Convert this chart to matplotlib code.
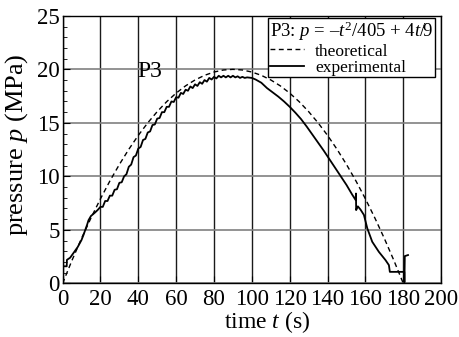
import matplotlib
matplotlib.use("Agg")
import matplotlib.pyplot as plt
from matplotlib.ticker import MultipleLocator

plt.rcParams['font.family'] = ['Liberation Serif', 'DejaVu Serif']
plt.rcParams['mathtext.fontset'] = 'custom'
plt.rcParams['mathtext.rm'] = 'Liberation Serif'
plt.rcParams['mathtext.it'] = 'Liberation Serif:italic'

# theoretical curve P3, read at 5 s steps
t_theo = [0, 5, 10, 15, 20, 25, 30, 35, 40, 45, 50, 55, 60, 65, 70, 75, 80, 85, 90,
          95, 100, 105, 110, 115, 120, 125, 130, 135, 140, 145, 150, 155, 160, 165,
          170, 175, 180]
p_theo = [0.0, 2.16, 4.20, 6.11, 7.90, 9.57, 11.11, 12.53, 13.83, 15.00, 16.05, 16.98,
          17.78, 18.46, 19.01, 19.44, 19.75, 19.94, 20.0, 19.94, 19.75, 19.44, 19.01,
          18.46, 17.78, 16.98, 16.05, 15.00, 13.83, 12.53, 11.11, 9.57, 7.90, 6.11,
          4.20, 2.16, 0.0]

# measured curve P3
t_exp = [0, 1.0, 2.2, 2.3, 4, 6, 8, 10, 11, 12, 13, 13.7, 15, 17, 18.5,
         20.0, 21.25, 22.5, 23.75, 25, 26.25, 27.5, 28.75, 30, 31.25, 32.5, 33.75,
         35, 36.25, 37.5, 38.75, 40, 41.25, 42.5, 43.75, 45, 46.25, 47.5, 48.75,
         50, 51.25, 52.5, 53.75, 55, 56.25, 57.5, 58.75, 60, 61.25, 62.5, 63.75,
         65, 66.25, 67.5, 68.75, 70, 71.25, 72.5, 73.75, 75, 76.25, 77.5, 78.75,
         80, 81.25, 82.5, 83.75, 85, 86.25, 87.5, 88.75, 90, 91.25, 92.5, 93.75,
         95, 96.25, 97.5, 100, 102, 105, 108, 111, 114, 117, 120, 123, 126, 129,
         132, 135, 138, 141, 144, 147, 150, 153, 154.8, 155.0, 155.1, 156.0, 157.4,
         159.2, 161.0, 163.6, 167.1, 170.6, 172.4, 172.9, 180.5, 180.6, 180.8, 182.5]
p_exp = [1.6, 1.6, 1.6, 2.2, 2.4, 2.9, 3.4, 4.05, 4.5, 5.0, 5.5, 5.9, 6.3, 6.6, 6.85,
         7.15, 7.15, 7.7, 7.7, 8.2, 8.2, 8.75, 8.8, 9.4, 9.45, 10.0, 10.2,
         10.9, 11.1, 11.8, 11.95, 12.6, 12.75, 13.4, 13.5, 14.1, 14.2, 14.8, 14.85,
         15.4, 15.45, 16.0, 16.0, 16.5, 16.5, 17.0, 16.95, 17.4, 17.35, 17.8, 17.7,
         18.1, 18.0, 18.4, 18.25, 18.6, 18.45, 18.8, 18.65, 19.0, 18.85, 19.2, 19.05,
         19.3, 19.15, 19.4, 19.25, 19.4, 19.25, 19.4, 19.25, 19.4, 19.25, 19.35, 19.2,
         19.3, 19.2, 19.25, 19.2, 19.05, 18.75, 18.25, 17.85, 17.45, 17.0, 16.5, 15.95,
         15.35, 14.65, 13.9, 13.15, 12.4, 11.6, 10.8, 10.0, 9.2, 8.3, 7.8, 8.4, 6.85,
         7.2, 6.9, 6.4, 5.14, 3.89, 2.95, 2.18, 1.71, 1.08, 1.08, 0.1, 2.55, 2.65]

fig = plt.figure(figsize=(4.6, 3.37), dpi=100)
ax = fig.add_axes([0.136, 0.159, 0.823, 0.794])

ax.plot(t_theo, p_theo, color="black", linewidth=1.0, linestyle=(0, (3.5, 2.5)),
        label="theoretical")
ax.plot(t_exp, p_exp, color="black", linewidth=1.3, label="experimental")

ax.set_xlim(0, 200)
ax.set_ylim(0, 25)
ax.xaxis.set_major_locator(MultipleLocator(20))
ax.yaxis.set_major_locator(MultipleLocator(5))
ax.yaxis.set_minor_locator(MultipleLocator(1))
ax.tick_params(which="both", direction="in", labelsize=16.5)
ax.tick_params(axis="x", pad=4)
ax.tick_params(axis="y", pad=2)
ax.tick_params(which="major", length=5)
ax.tick_params(which="minor", length=3)
ax.xaxis.grid(True, color="0.1", linewidth=1.0)
ax.yaxis.grid(True, color="0.5", linewidth=1.2)
for s in ax.spines.values():
    s.set_linewidth(1.0)

ax.set_xlabel("time $t$ (s)", fontsize=17)
ax.set_ylabel("pressure $p$ (MPa)", fontsize=19)
ax.xaxis.set_label_coords(0.54, -0.095)
ax.yaxis.set_label_coords(-0.087, 0.52)

ax.text(46, 19.8, "P3", fontsize=17, ha="center", va="center")

leg = ax.legend(title="P3: $p$ = –$t^2$/405 + 4$t$/9", loc="upper right",
                bbox_to_anchor=(0.984, 0.991), borderaxespad=0, fontsize=12.5,
                title_fontsize=13.5, frameon=True, fancybox=False, framealpha=1,
                edgecolor="black", handlelength=2.0, handletextpad=0.6,
                labelspacing=0.0, borderpad=0.1, alignment="left")
leg.get_frame().set_linewidth(1.0)
leg._legend_box.sep = 0

fig.savefig("out.png", dpi=100)
